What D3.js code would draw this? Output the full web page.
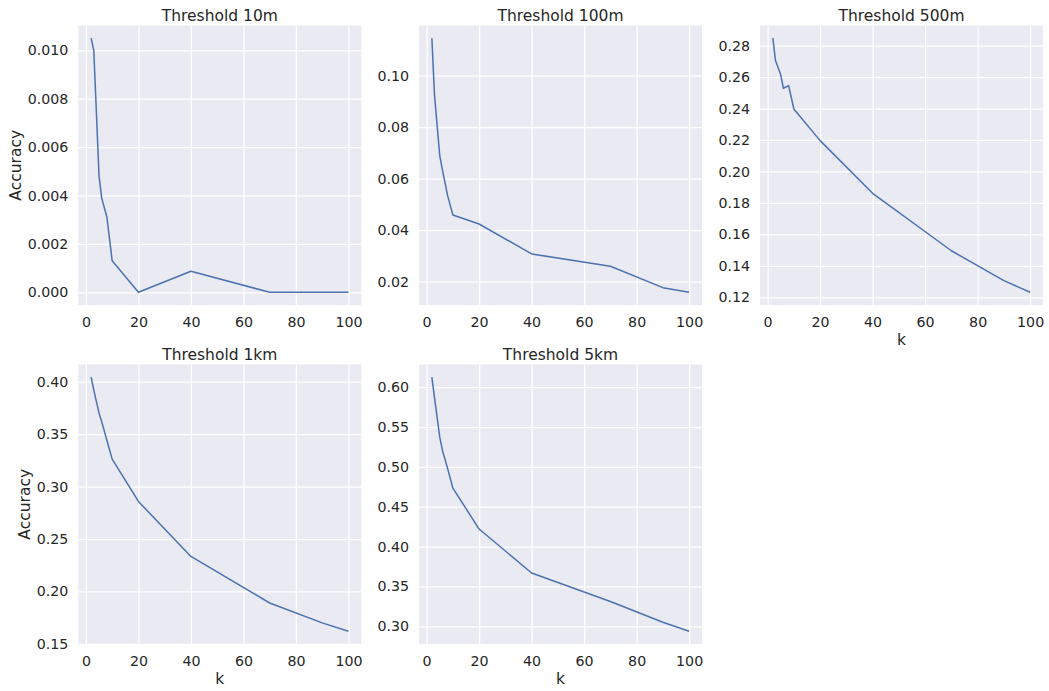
<!DOCTYPE html>
<html>
<head>
<meta charset="utf-8">
<script src="https://cdn.jsdelivr.net/npm/d3@7/dist/d3.min.js"></script>
<style>
  html, body { margin: 0; padding: 0; background: #fff; }
  svg { display: block; font-family: "DejaVu Sans", sans-serif; }
</style>
</head>
<body>
<div id="chart"></div>
<script>
// values
const kValues = [2, 3, 5, 6, 8, 10, 20, 40, 70, 90, 100];
const acc10m  = [0.0105, 0.0100, 0.0048, 0.0039, 0.0031, 0.0013, 0.0, 0.00087, 0.0, 0.0, 0.0];
const acc100m = [0.1145, 0.0925, 0.0689, 0.0635, 0.0534, 0.0459, 0.0424, 0.0308, 0.0260, 0.0177, 0.0159];
const acc500m = [0.2847, 0.2705, 0.2614, 0.2529, 0.2546, 0.2397, 0.2196, 0.1861, 0.1496, 0.1306, 0.1232];
const acc1km  = [0.4043, 0.392, 0.370, 0.362, 0.344, 0.3262, 0.2858, 0.2334, 0.189, 0.170, 0.162];
const acc5km  = [0.6125, 0.587, 0.5373, 0.521, 0.498, 0.4734, 0.422, 0.3669, 0.331, 0.305, 0.2937];

const titles = ["Threshold 10m", "Threshold 100m", "Threshold 500m", "Threshold 1km", "Threshold 5km"];
const xTicks = [0, 20, 40, 60, 80, 100];
const yTicks10m  = [0.000, 0.002, 0.004, 0.006, 0.008, 0.010];
const yTicks100m = [0.02, 0.04, 0.06, 0.08, 0.10];
const yTicks500m = [0.12, 0.14, 0.16, 0.18, 0.20, 0.22, 0.24, 0.26, 0.28];
const yTicks1km  = [0.15, 0.20, 0.25, 0.30, 0.35, 0.40];
const yTicks5km  = [0.30, 0.35, 0.40, 0.45, 0.50, 0.55, 0.60];

const W = 1049, H = 691;
const cols = [78.3, 419, 760];
const rows = [25.5, 364.5];
const pw = 283, ph = 279.5;

const panels = [
  { title: titles[0], values: acc10m,  ticks: yTicks10m,  fmt: ".3f", col: 0, row: 0, ylab: true,  xlab: false },
  { title: titles[1], values: acc100m, ticks: yTicks100m, fmt: ".2f", col: 1, row: 0, ylab: false, xlab: false },
  { title: titles[2], values: acc500m, ticks: yTicks500m, fmt: ".2f", col: 2, row: 0, ylab: false, xlab: true },
  { title: titles[3], values: acc1km,  ticks: yTicks1km,  fmt: ".2f", col: 0, row: 1, ylab: true,  xlab: true },
  { title: titles[4], values: acc5km,  ticks: yTicks5km,  fmt: ".2f", col: 1, row: 1, ylab: false, xlab: true }
];

const svg = d3.select("#chart").append("svg")
    .attr("width", W)
    .attr("height", H);

// matplotlib style 5% margins
function padded(ext) {
    const m = (ext[1] - ext[0]) * 0.05;
    return [ext[0] - m, ext[1] + m];
}

panels.forEach(p => {
    const g = svg.append("g")
        .attr("transform", `translate(${cols[p.col]},${rows[p.row]})`);

    const x = d3.scaleLinear().domain(padded(d3.extent(kValues))).range([0, pw]);
    const y = d3.scaleLinear().domain(padded(d3.extent(p.values))).range([ph, 0]);

    g.append("rect")
        .attr("width", pw)
        .attr("height", ph)
        .attr("fill", "#EAEAF2");

    // grid
    g.append("g")
        .attr("transform", `translate(0,${ph})`)
        .call(d3.axisBottom(x).tickValues(xTicks).tickSize(-ph).tickFormat(""))
        .call(a => a.select(".domain").remove())
        .call(a => a.selectAll("line").attr("stroke", "#fff").attr("stroke-width", 1.25));
    g.append("g")
        .call(d3.axisLeft(y).tickValues(p.ticks).tickSize(-pw).tickFormat(""))
        .call(a => a.select(".domain").remove())
        .call(a => a.selectAll("line").attr("stroke", "#fff").attr("stroke-width", 1.25));

    // tick labels
    const xAxis = g.append("g")
        .attr("transform", `translate(0,${ph})`)
        .call(d3.axisBottom(x).tickValues(xTicks).tickSize(0).tickPadding(11.6).tickFormat(d3.format("d")));
    const yAxis = g.append("g")
        .call(d3.axisLeft(y).tickValues(p.ticks).tickSize(0).tickPadding(10).tickFormat(d3.format(p.fmt)));
    [xAxis, yAxis].forEach(a => {
        a.select(".domain").remove();
        a.selectAll("text")
            .attr("fill", "#262626")
            .style("font-size", "14.2px")
            .style("font-family", "'DejaVu Sans', sans-serif");
    });

    const line = d3.line()
        .x((d, i) => x(kValues[i]))
        .y(d => y(d));

    g.append("path")
        .datum(p.values)
        .attr("d", line)
        .attr("fill", "none")
        .attr("stroke", "#4C72B0")
        .attr("stroke-width", 1.5)
        .attr("stroke-linejoin", "round");

    g.append("text")
        .attr("x", pw / 2)
        .attr("y", -4.5)
        .attr("text-anchor", "middle")
        .attr("fill", "#262626")
        .style("font-size", "15.5px")
        .text(p.title);

    if (p.xlab) {
        g.append("text")
            .attr("x", pw / 2)
            .attr("y", ph + 40)
            .attr("text-anchor", "middle")
            .attr("fill", "#262626")
            .style("font-size", "15.5px")
            .text("k");
    }

    if (p.ylab) {
        let maxW = 0;
        yAxis.selectAll("text").each(function() {
            maxW = Math.max(maxW, this.getComputedTextLength());
        });
        const lx = -10 - maxW - 6.5;
        g.append("text")
            .attr("transform", `translate(${lx},${ph / 2}) rotate(-90)`)
            .attr("text-anchor", "middle")
            .attr("fill", "#262626")
            .style("font-size", "15.5px")
            .text("Accuracy");
    }
});
</script>
</body>
</html>
